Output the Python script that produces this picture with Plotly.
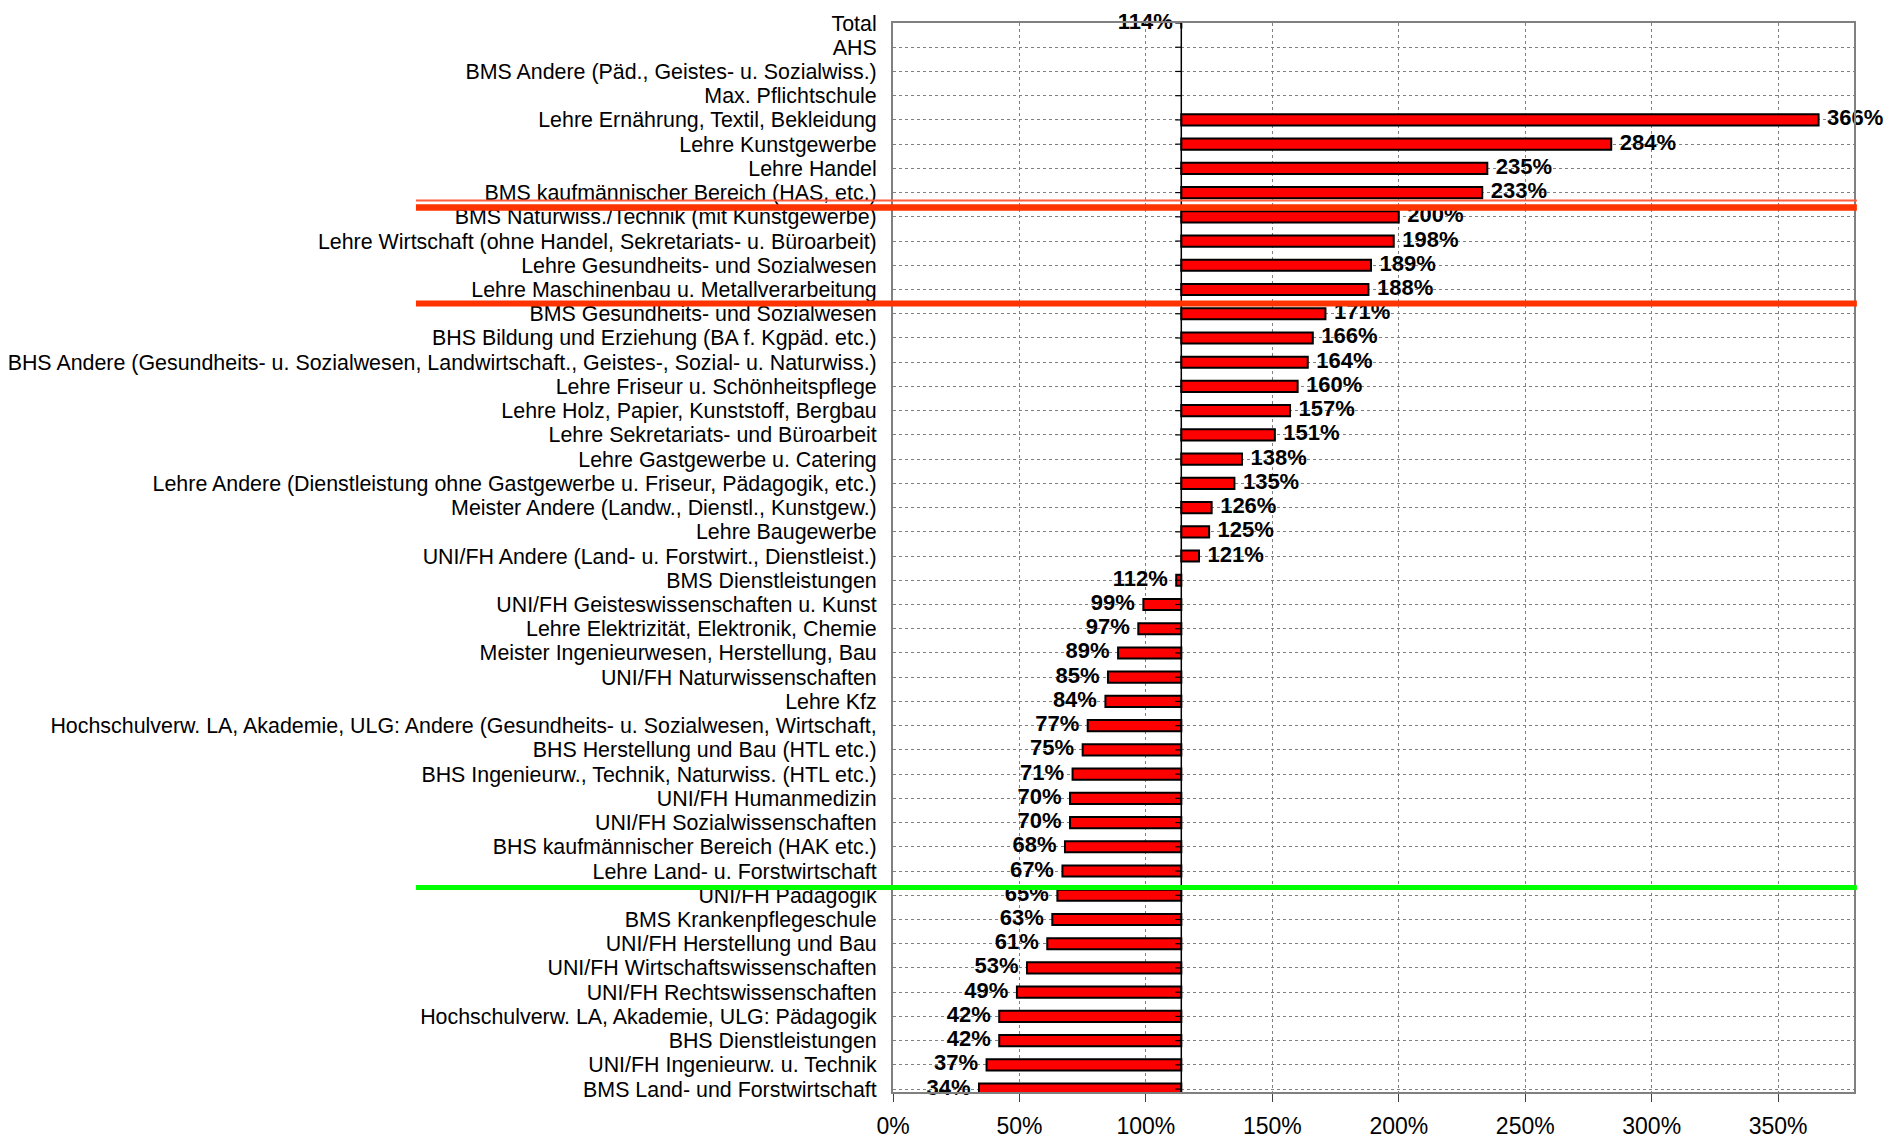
import plotly.graph_objects as go

categories = [
    "Total",
    "AHS",
    "BMS Andere (Päd., Geistes- u. Sozialwiss.)",
    "Max. Pflichtschule",
    "Lehre Ernährung, Textil, Bekleidung",
    "Lehre Kunstgewerbe",
    "Lehre Handel",
    "BMS kaufmännischer Bereich (HAS, etc.)",
    "BMS Naturwiss./Technik (mit Kunstgewerbe)",
    "Lehre Wirtschaft (ohne Handel, Sekretariats- u. Büroarbeit)",
    "Lehre Gesundheits- und Sozialwesen",
    "Lehre Maschinenbau u. Metallverarbeitung",
    "BMS Gesundheits- und Sozialwesen",
    "BHS Bildung und Erziehung (BA f. Kgpäd. etc.)",
    "BHS Andere (Gesundheits- u. Sozialwesen, Landwirtschaft., Geistes-, Sozial- u. Naturwiss.)",
    "Lehre Friseur u. Schönheitspflege",
    "Lehre Holz, Papier, Kunststoff, Bergbau",
    "Lehre Sekretariats- und Büroarbeit",
    "Lehre Gastgewerbe u. Catering",
    "Lehre Andere (Dienstleistung ohne Gastgewerbe u. Friseur, Pädagogik, etc.)",
    "Meister Andere (Landw., Dienstl., Kunstgew.)",
    "Lehre Baugewerbe",
    "UNI/FH Andere (Land- u. Forstwirt., Dienstleist.)",
    "BMS Dienstleistungen",
    "UNI/FH Geisteswissenschaften u. Kunst",
    "Lehre Elektrizität, Elektronik, Chemie",
    "Meister Ingenieurwesen, Herstellung, Bau",
    "UNI/FH Naturwissenschaften",
    "Lehre Kfz",
    "Hochschulverw. LA, Akademie, ULG: Andere (Gesundheits- u. Sozialwesen, Wirtschaft,",
    "BHS Herstellung und Bau (HTL etc.)",
    "BHS Ingenieurw., Technik, Naturwiss. (HTL etc.)",
    "UNI/FH Humanmedizin",
    "UNI/FH Sozialwissenschaften",
    "BHS kaufmännischer Bereich (HAK etc.)",
    "Lehre Land- u. Forstwirtschaft",
    "UNI/FH Pädagogik",
    "BMS Krankenpflegeschule",
    "UNI/FH Herstellung und Bau",
    "UNI/FH Wirtschaftswissenschaften",
    "UNI/FH Rechtswissenschaften",
    "Hochschulverw. LA, Akademie, ULG: Pädagogik",
    "BHS Dienstleistungen",
    "UNI/FH Ingenieurw. u. Technik",
    "BMS Land- und Forstwirtschaft",
]

values = [
    114, None, None, None,
    366, 284, 235, 233, 200, 198, 189, 188, 171, 166, 164, 160, 157, 151,
    138, 135, 126, 125, 121, 112, 99, 97, 89, 85, 84, 77, 75, 71, 70, 70,
    68, 67, 65, 63, 61, 53, 49, 42, 42, 37, 34,
]

BASE = 114
x_ticks = [0, 50, 100, 150, 200, 250, 300, 350]
x_tick_labels = [f"{t}%" for t in x_ticks]

# separator lines: (category after which line sits, offset in rows, colour, width)
separators = [
    ("BMS kaufmännischer Bereich (HAS, etc.)", 0.33, "#FF5A3C", 2),
    ("BMS kaufmännischer Bereich (HAS, etc.)", 0.61, "#FF3300", 6.5),
    ("Lehre Maschinenbau u. Metallverarbeitung", 0.58, "#FF3300", 6),
    ("Lehre Land- u. Forstwirtschaft", 0.68, "#00FF00", 5),
]

FONT = "Liberation Sans, Arial, sans-serif"

fig = go.Figure()

fig.add_trace(go.Bar(
    y=categories,
    x=[(v - BASE) if v is not None else None for v in values],
    base=BASE,
    orientation="h",
    width=0.46,
    marker=dict(color="#FF0000", line=dict(color="#000000", width=2)),
    hoverinfo="skip",
    showlegend=False,
))

right_y = [c for c, v in zip(categories, values) if v is not None and v > BASE]
right_x = [v for v in values if v is not None and v > BASE]
left_y = [c for c, v in zip(categories, values) if v is not None and v <= BASE]
left_x = [v for v in values if v is not None and v <= BASE]

for ys, xs, pos in [(right_y, right_x, "middle right"), (left_y, left_x, "middle left")]:
    fig.add_trace(go.Scatter(
        y=ys, x=xs,
        mode="markers+text",
        marker=dict(size=12, color="rgba(0,0,0,0)"),
        text=[f"{v}%" for v in xs],
        textposition=pos,
        textfont=dict(family=FONT, size=22, color="#000000", weight="bold"),
        hoverinfo="skip",
        showlegend=False,
        cliponaxis=False,
    ))

shapes = []
# axis line at the base value
shapes.append(dict(type="line", xref="x", yref="paper", x0=BASE, x1=BASE, y0=0, y1=1,
                   line=dict(color="#000000", width=1.5), layer="above"))
# small tick marks on the base axis
for c in categories:
    shapes.append(dict(type="line", xref="x", yref="y", x0=BASE - 2.4, x1=BASE, y0=c, y1=c,
                       line=dict(color="#000000", width=1.2), layer="above"))
# coloured separator lines
for cat, off, col, w in separators:
    yv = categories.index(cat) + off
    shapes.append(dict(type="line", xref="paper", yref="y", x0=-0.4964, x1=1.003, y0=yv, y1=yv,
                       line=dict(color=col, width=w), layer="above"))

fig.update_layout(
    width=1887, height=1139,
    margin=dict(l=893, r=33, t=23, b=47, autoexpand=False),
    paper_bgcolor="white", plot_bgcolor="white",
    font=dict(family=FONT, color="#000000"),
    bargap=0.5,
    shapes=shapes,
)

fig.update_xaxes(
    range=[0, 380],
    tickmode="array", tickvals=x_ticks, ticktext=x_tick_labels,
    tickfont=dict(family=FONT, size=23, color="#000000"),
    ticks="outside", ticklen=8, tickcolor="#404040", tickwidth=1,
    ticklabelstandoff=4,
    showgrid=True, gridcolor="#808080", griddash="dot", gridwidth=1,
    showline=True, linecolor="#808080", linewidth=2, mirror=True,
    zeroline=False, automargin=False,
)
fig.update_yaxes(
    type="category",
    categoryorder="array", categoryarray=categories,
    tickmode="array", tickvals=categories, ticktext=categories,
    range=[44.12, 0],
    tickfont=dict(family=FONT, size=21.4, color="#000000"),
    ticks="", ticklabelstandoff=10,
    showgrid=True, gridcolor="#808080", griddash="dot", gridwidth=1,
    showline=True, linecolor="#808080", linewidth=2, mirror=True,
    zeroline=False, automargin=False,
)

fig.write_html(
    "out.html",
    config={"displayModeBar": False},
    post_script="document.body.style.margin='0';document.body.style.padding='0';document.body.style.overflow='hidden';",
)
